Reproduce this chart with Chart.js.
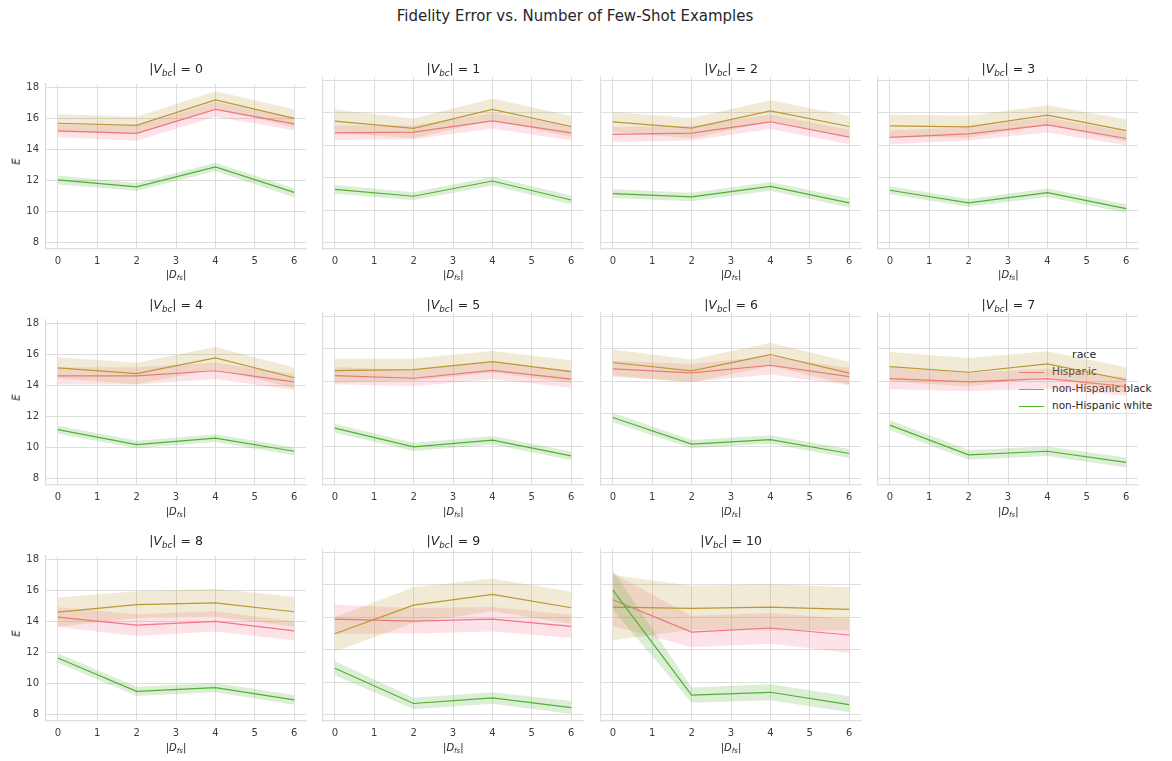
<!DOCTYPE html>
<html>
<head>
<meta charset="utf-8">
<script src="https://cdn.jsdelivr.net/npm/chart.js@4.4.0/dist/chart.umd.min.js"></script>
<style>
  body { margin: 0; background: #fff; font-family: 'DejaVu Sans', sans-serif; color: #262626; }
  #page { position: relative; width: 1172px; height: 761px; overflow: hidden; }
  .box { position: absolute; }
  .ttl { position: absolute; width: 260px; text-align: center; font-size: 12.5px; line-height: 15px; white-space: nowrap; }
  .xl { position: absolute; width: 260px; text-align: center; font-size: 10px; line-height: 12px; white-space: nowrap; }
  sub { font-size: 70%; vertical-align: -0.3em; line-height: 0; }
  #sup { position: absolute; left: 275px; width: 600px; top: 7px; text-align: center; font-size: 15px; }
  #legend { position: absolute; left: 1016px; top: 346px; font-size: 10.5px; }
  #legend .row { position: relative; height: 17px; line-height: 17px; white-space: nowrap; }
  #legend .ln { display: inline-block; width: 25px; height: 0; border-top: 1.3px solid; vertical-align: middle; margin: 0 8px 0 3px; }
  .yl { position: absolute; font-size: 10px; font-style: italic; transform: rotate(-90deg); }
</style>
</head>
<body>
<div id="page">
  <div id="sup">Fidelity Error vs. Number of Few-Shot Examples</div>
  <div id="legend">
    <div class="row" style="text-align:center;font-size:11px">race</div>
    <div class="row"><span class="ln" style="border-color:#f77189"></span>Hispanic</div>
    <div class="row"><span class="ln" style="border-color:#bb9832"></span>non-Hispanic black</div>
    <div class="row"><span class="ln" style="border-color:#50b131"></span>non-Hispanic white</div>
  </div>
</div>
<script>
// facet values of |V_bc| and x positions |D_fs|
var vbc = [0, 1, 2, 3, 4, 5, 6, 7, 8, 9, 10];
var dfs = [0, 2, 4, 6];
var yTicks = [8, 10, 12, 14, 16, 18];
var xTicks = [0, 1, 2, 3, 4, 5, 6];
var races = ['Hispanic', 'non-Hispanic black', 'non-Hispanic white'];
var colors = ['#f77189', '#bb9832', '#50b131'];
var bandColors = ['rgba(247,113,137,0.2)', 'rgba(187,152,50,0.2)', 'rgba(80,177,49,0.2)'];

// Hispanic
var hispMean = [
  [15.19, 15.03, 16.57, 15.64], [14.76, 14.80, 15.50, 14.76], [14.66, 14.74, 15.44, 14.50],
  [14.48, 14.70, 15.25, 14.41], [14.61, 14.61, 14.94, 14.22], [14.34, 14.18, 14.67, 14.12],
  [14.76, 14.51, 14.98, 14.28], [14.16, 13.95, 14.16, 13.67], [14.27, 13.76, 14.00, 13.39],
  [13.88, 13.76, 13.88, 13.43], [15.07, 13.08, 13.33, 12.90]];
var hispLo = [
  [14.78, 14.56, 16.10, 15.23], [14.31, 14.37, 15.03, 14.29], [14.20, 14.29, 14.99, 14.05],
  [14.05, 14.29, 14.78, 14.00], [14.06, 14.06, 14.41, 13.71], [13.81, 13.69, 14.12, 13.60],
  [14.26, 13.96, 14.41, 13.75], [13.50, 13.38, 13.54, 13.10], [13.64, 13.06, 13.35, 12.77],
  [13.00, 13.00, 13.12, 12.71], [13.47, 12.14, 12.36, 11.79]];
var hispHi = [
  [15.60, 15.50, 17.04, 16.05], [15.21, 15.23, 15.97, 15.23], [15.12, 15.19, 15.89, 14.95],
  [14.91, 15.11, 15.72, 14.82], [15.16, 15.16, 15.47, 14.73], [14.87, 14.67, 15.22, 14.64],
  [15.26, 15.06, 15.55, 14.81], [14.82, 14.52, 14.78, 14.24], [14.90, 14.46, 14.65, 14.01],
  [14.76, 14.56, 14.62, 14.15], [16.70, 14.09, 14.25, 13.88]];

// non-Hispanic black
var blackMean = [
  [15.68, 15.54, 17.18, 15.99], [15.48, 15.03, 16.20, 15.15], [15.44, 15.05, 16.11, 15.15],
  [15.19, 15.13, 15.85, 14.90], [15.13, 14.76, 15.76, 14.49], [14.65, 14.71, 15.20, 14.59],
  [15.15, 14.63, 15.64, 14.49], [14.90, 14.55, 15.06, 14.07], [14.60, 15.07, 15.19, 14.62],
  [12.98, 14.74, 15.40, 14.58], [14.62, 14.54, 14.62, 14.48]];
var blackLo = [
  [15.10, 14.98, 16.63, 15.41], [14.76, 14.42, 15.53, 14.50], [14.83, 14.42, 15.45, 14.50],
  [14.50, 14.45, 15.24, 14.22], [14.46, 14.07, 15.06, 13.83], [13.91, 14.03, 14.54, 13.89],
  [14.35, 13.93, 14.92, 13.79], [14.00, 13.67, 14.28, 13.28], [13.66, 14.21, 14.29, 13.66],
  [11.89, 13.64, 14.37, 13.59], [12.57, 13.23, 13.18, 13.18]];
var blackHi = [
  [16.26, 16.10, 17.73, 16.57], [16.20, 15.64, 16.87, 15.79], [16.05, 15.68, 16.77, 15.79],
  [15.89, 15.81, 16.46, 15.58], [15.80, 15.45, 16.46, 15.15], [15.39, 15.39, 15.86, 15.29],
  [15.95, 15.33, 16.36, 15.19], [15.80, 15.43, 15.84, 14.86], [15.54, 15.93, 16.09, 15.58],
  [14.00, 15.85, 16.38, 15.56], [16.60, 15.93, 16.03, 15.85]];

// non-Hispanic white
var whiteMean = [
  [12.04, 11.59, 12.88, 11.24], [11.28, 10.85, 11.79, 10.62], [11.01, 10.81, 11.46, 10.44],
  [11.22, 10.44, 11.07, 10.09], [11.16, 10.20, 10.61, 9.77], [11.10, 9.95, 10.36, 9.40],
  [11.76, 10.12, 10.40, 9.54], [11.29, 9.46, 9.68, 8.99], [11.65, 9.50, 9.74, 8.96],
  [10.85, 8.68, 9.02, 8.43], [15.66, 9.19, 9.37, 8.61]];
var whiteLo = [
  [11.75, 11.34, 12.60, 10.93], [11.01, 10.60, 11.52, 10.35], [10.74, 10.55, 11.19, 10.16],
  [10.97, 10.20, 10.81, 9.82], [10.89, 9.96, 10.36, 9.51], [10.82, 9.70, 10.10, 9.13],
  [11.46, 9.86, 10.14, 9.26], [10.98, 9.16, 9.38, 8.68], [11.35, 9.20, 9.44, 8.65],
  [10.42, 8.33, 8.67, 8.03], [14.46, 8.72, 8.88, 8.14]];
var whiteHi = [
  [12.32, 11.84, 13.14, 11.50], [11.55, 11.10, 12.06, 10.89], [11.28, 11.07, 11.73, 10.72],
  [11.47, 10.68, 11.33, 10.36], [11.43, 10.44, 10.86, 10.03], [11.38, 10.20, 10.62, 9.67],
  [12.06, 10.38, 10.66, 9.82], [11.60, 9.76, 9.98, 9.30], [11.95, 9.80, 10.04, 9.27],
  [11.28, 9.03, 9.37, 8.83], [16.91, 9.66, 9.86, 9.13]];

var means = [hispMean, blackMean, whiteMean];
var los = [hispLo, blackLo, whiteLo];
var his = [hispHi, blackHi, whiteHi];

// layout of the facet grid
var colLeft = [46, 323.3, 601, 878.3];
var rowTop = [76.7, 313, 549];
var plotW = 260, plotH = 172.5;
var padL = 40, padT = 6, padR = 6, padB = 24;

function pts(arr) {
  return arr.map(function (v, i) { return { x: dfs[i], y: v }; });
}

var page = document.getElementById('page');

vbc.forEach(function (v, k) {
  var col = k % 4, row = Math.floor(k / 4);
  var L = colLeft[col], T = rowTop[row];

  var box = document.createElement('div');
  box.className = 'box';
  box.style.left = (L - padL) + 'px';
  box.style.top = (T - padT) + 'px';
  var cv = document.createElement('canvas');
  cv.width = padL + plotW + padR;
  cv.height = padT + plotH + padB;
  box.appendChild(cv);
  page.appendChild(box);

  var t = document.createElement('div');
  t.className = 'ttl';
  t.style.left = L + 'px';
  t.style.top = (T - 16) + 'px';
  t.innerHTML = '|<i>V</i><sub><i>bc</i></sub>| = ' + v;
  page.appendChild(t);

  var xl = document.createElement('div');
  xl.className = 'xl';
  xl.style.left = L + 'px';
  xl.style.top = (T + plotH + 20) + 'px';
  xl.innerHTML = '|<i>D</i><sub><i>fs</i></sub>|';
  page.appendChild(xl);

  if (col == 0) {
    var yl = document.createElement('div');
    yl.className = 'yl';
    yl.style.left = '13px';
    yl.style.top = (T + plotH / 2 - 7) + 'px';
    yl.textContent = 'E';
    page.appendChild(yl);
  }

  // drawn in reverse order, so the white group goes first to sit on top
  var datasets = [];
  for (var r = 2; r >= 0; r--) {
    datasets.push({ label: races[r], data: pts(means[r][k]), borderColor: colors[r], borderWidth: 1.2, pointRadius: 0, fill: false, tension: 0 });
    datasets.push({ label: races[r] + ' hi', data: pts(his[r][k]), borderWidth: 0, pointRadius: 0, backgroundColor: bandColors[r], fill: '+1', tension: 0 });
    datasets.push({ label: races[r] + ' lo', data: pts(los[r][k]), borderWidth: 0, pointRadius: 0, fill: false, tension: 0 });
  }

  new Chart(cv.getContext('2d'), {
    type: 'line',
    data: { datasets: datasets },
    options: {
      responsive: false,
      animation: false,
      devicePixelRatio: 1,
      layout: { padding: { left: 0, top: padT, right: padR, bottom: 0 } },
      plugins: { legend: { display: false }, tooltip: { enabled: false } },
      scales: {
        x: {
          type: 'linear', min: -0.3, max: 6.3,
          afterBuildTicks: function (s) { s.ticks = xTicks.map(function (q) { return { value: q }; }); },
          afterFit: function (s) { s.height = padB; },
          grid: { color: '#dedede', lineWidth: 1, drawTicks: false },
          border: { display: true, color: '#dedede', width: 1.2 },
          ticks: { padding: 6, color: '#3c3c3c', font: { family: 'DejaVu Sans', size: 10 }, maxRotation: 0 }
        },
        y: {
          type: 'linear', min: 7.6, max: 18.2,
          afterBuildTicks: function (s) { s.ticks = yTicks.map(function (q) { return { value: q }; }); },
          afterFit: function (s) { s.width = padL; },
          grid: { color: '#dedede', lineWidth: 1, drawTicks: false },
          border: { display: true, color: '#dedede', width: 1.2 },
          ticks: { display: col == 0, padding: 7, color: '#3c3c3c', font: { family: 'DejaVu Sans', size: 10 } }
        }
      }
    }
  });
});
</script>
</body>
</html>
